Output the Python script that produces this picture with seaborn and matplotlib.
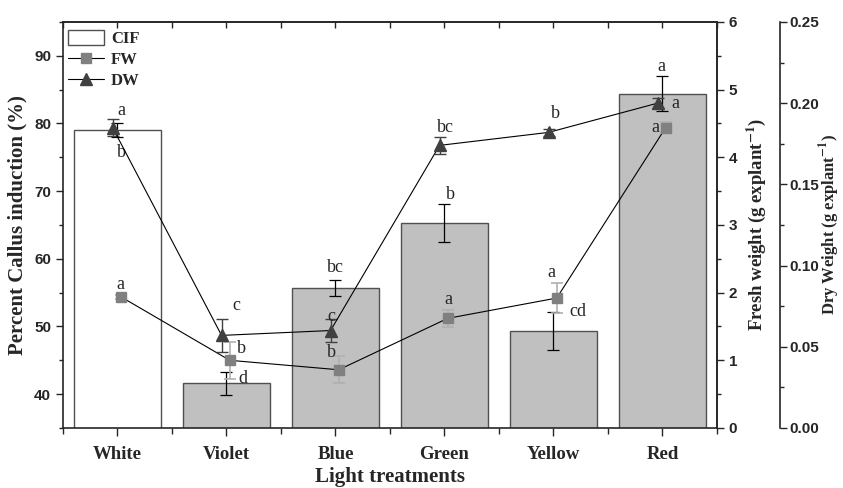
import matplotlib
matplotlib.use("Agg")
import matplotlib.pyplot as plt
import numpy as np
import pandas as pd
import seaborn as sns
from matplotlib.lines import Line2D
from matplotlib.patches import Patch
from matplotlib.ticker import MultipleLocator

# Datos del gráfico
tratamientos = ["White", "Violet", "Blue", "Green", "Yellow", "Red"]
cif = [79.0, 41.6, 55.7, 65.3, 49.3, 84.4]
cif_err = [1.0, 1.7, 1.2, 2.8, 2.8, 2.6]
cif_letras = ["b", "d", "bc", "b", "cd", "a"]
fw = [1.94, 1.0, 0.86, 1.62, 1.92, 4.44]
fw_err = [0.03, 0.27, 0.2, 0.13, 0.22, 0.08]
fw_letras = ["a", "b", "b", "a", "a", "a"]
dw = [0.185, 0.057, 0.060, 0.174, 0.182, 0.200]
dw_err = [0.005, 0.010, 0.007, 0.005, 0.002, 0.003]
dw_letras = ["a", "c", "c", "bc", "b", "a"]

# Desplazamientos de las letras (pixeles)
off_cif = [(4, -22), (16, 5), (0, 20), (6, 28), (24, 20), (-1, 27)]
off_fw = [(0, 12), (12, 12), (-7, 17), (1, 19), (-5, 26), (-10, 0)]
off_dw = [(9, 17), (15, 30), (1, 14), (6, 18), (7, 19), (18, 0)]

sns.set_style("ticks")
plt.rcParams["font.family"] = ["Liberation Serif", "DejaVu Serif"]
plt.rcParams["mathtext.fontset"] = "stix"

fig = plt.figure(figsize=(8.43, 4.88), dpi=100)
ax = fig.add_axes([0.0747, 0.123, 0.7758, 0.832])

df = pd.DataFrame({"tratamiento": tratamientos, "cif": cif})
paleta = ["white"] + ["#c0c0c0"] * 5
sns.barplot(data=df, x="tratamiento", y="cif", hue="tratamiento", palette=paleta,
            legend=False, width=0.8, edgecolor="#505050", linewidth=1.0, ax=ax, zorder=1)
x = np.arange(len(tratamientos))
ax.errorbar(x, cif, yerr=cif_err, fmt="none", ecolor="black", elinewidth=0.9,
            capsize=4, capthick=0.9, zorder=3)

ax.set_xlim(-0.5, 5.5)
ax.set_ylim(35, 95)
ax.yaxis.set_major_locator(MultipleLocator(10))
ax.yaxis.set_minor_locator(MultipleLocator(5))
ax.set_yticks([40, 50, 60, 70, 80, 90])
ax.xaxis.set_minor_locator(MultipleLocator(1, offset=0.5))
ax.tick_params(axis="y", which="major", direction="out", length=5, width=1)
ax.tick_params(axis="y", which="minor", direction="out", length=3, width=1)
ax.tick_params(axis="x", which="major", direction="out", length=6, width=1, pad=7)
ax.tick_params(axis="x", which="minor", direction="out", length=4, width=1)
for s in ax.spines.values():
    s.set_linewidth(1.2)
for lbl in ax.get_yticklabels():
    lbl.set_fontfamily("Liberation Sans")
    lbl.set_fontweight("bold")
    lbl.set_fontsize(11)
for lbl in ax.get_xticklabels():
    lbl.set_fontweight("bold")
    lbl.set_fontsize(13.5)
ax.set_xlabel("Light treatments", fontsize=15, fontweight="bold", labelpad=3)
ax.set_ylabel("Percent Callus induction (%)", fontsize=15, fontweight="bold", labelpad=5)

# Marcas superiores hacia adentro
top = ax.secondary_xaxis("top")
top.set_xticks(x)
top.xaxis.set_minor_locator(MultipleLocator(1, offset=0.5))
top.tick_params(which="both", direction="in", length=4, width=1, labeltop=False)
top.spines["top"].set_linewidth(1.2)

for xi, yi, l, o in zip(x, cif, cif_letras, off_cif):
    ax.annotate(l, (xi, yi), xytext=o, textcoords="offset pixels", ha="center",
                va="center", fontsize=13, zorder=5)

# Eje de peso fresco
ax2 = ax.twinx()
ax2.set_ylim(0, 6)
ax2.yaxis.set_major_locator(MultipleLocator(1))
ax2.yaxis.set_minor_locator(MultipleLocator(0.5))
x_fw = x + 0.03
ax2.errorbar(x_fw, fw, yerr=fw_err, fmt="none", ecolor="#b0b0b0", elinewidth=1.2,
             capsize=4, capthick=1.2, zorder=2)
sns.lineplot(x=x_fw, y=fw, color="black", linewidth=0.8, ax=ax2, zorder=3)
ax2.plot(x_fw, fw, ls="none", marker="s", markersize=7, color="#808080", zorder=4)
for xi, yi, l, o in zip(x_fw, fw, fw_letras, off_fw):
    ax2.annotate(l, (xi, yi), xytext=o, textcoords="offset pixels", ha="center",
                 va="center", fontsize=13, zorder=5)
ax2.set_ylabel("Fresh weight (g explant$^{\\mathbf{-1}}$)", fontsize=13.5,
               fontweight="bold", labelpad=5)

# Eje de peso seco
ax3 = ax.twinx()
ax3.spines["right"].set_position(("outward", 45.4))
ax3.set_ylim(0, 0.25)
ax3.yaxis.set_major_locator(MultipleLocator(0.05))
ax3.yaxis.set_minor_locator(MultipleLocator(0.025))
x_dw = x - 0.045
ax3.errorbar(x_dw, dw, yerr=dw_err, fmt="none", ecolor="#404040", elinewidth=1.0,
             capsize=4, capthick=1.0, zorder=2)
sns.lineplot(x=x_dw, y=dw, color="black", linewidth=0.8, ax=ax3, zorder=3)
ax3.plot(x_dw, dw, ls="none", marker="^", markersize=9, color="#404040", zorder=4)
for xi, yi, l, o in zip(x_dw, dw, dw_letras, off_dw):
    ax3.annotate(l, (xi, yi), xytext=o, textcoords="offset pixels", ha="center",
                 va="center", fontsize=13, zorder=5)
ax3.set_ylabel("Dry Weight (g explant$^{\\mathbf{-1}}$)", fontsize=12,
               fontweight="bold", labelpad=-1)

for a in (ax2, ax3):
    a.tick_params(axis="y", which="major", direction="out", length=5, width=1)
    a.tick_params(axis="y", which="minor", direction="out", length=3, width=1)
    for lbl in a.get_yticklabels():
        lbl.set_fontfamily("Liberation Sans")
        lbl.set_fontweight("bold")
        lbl.set_fontsize(11)
    a.spines["right"].set_linewidth(1.2)
ax3.tick_params(axis="y", which="major", pad=1.5)
for s in ("top", "bottom", "left"):
    ax3.spines[s].set_visible(False)
    ax2.spines[s].set_visible(False)
ax3.set_yticks([0, 0.05, 0.10, 0.15, 0.20, 0.25])
ax3.set_yticklabels(["0.00", "0.05", "0.10", "0.15", "0.20", "0.25"],
                    fontfamily="Liberation Sans", fontweight="bold", fontsize=11)

# Leyenda
manejadores = [
    Patch(facecolor="white", edgecolor="#505050", linewidth=1.0),
    Line2D([0], [0], color="black", lw=0.8, marker="s", markersize=7,
           markerfacecolor="#808080", markeredgecolor="#808080"),
    Line2D([0], [0], color="black", lw=0.8, marker="^", markersize=9,
           markerfacecolor="#404040", markeredgecolor="#404040"),
]
ax3.legend(manejadores, ["CIF", "FW", "DW"], loc="upper left", frameon=False,
           bbox_to_anchor=(-0.016, 1.018), handlelength=2.2, handleheight=1.0,
           handletextpad=0.4, labelspacing=0.25, prop={"weight": "bold", "size": 12})

fig.savefig("out.png", dpi=100)
